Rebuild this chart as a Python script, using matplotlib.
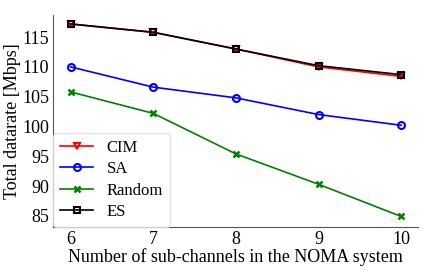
import numpy as np
import matplotlib
matplotlib.use('Agg')
import matplotlib.pyplot as plt

plt.rcParams['font.family'] = ['Liberation Serif', 'DejaVu Serif']

# データ
channels = [6, 7, 8, 9, 10]
cim = [117.2, 115.8, 113.0, 110.0, 108.4]
sa = [110.0, 106.6, 104.8, 102.0, 100.2]
rnd = [105.8, 102.2, 95.4, 90.3, 84.9]
es = [117.2, 115.8, 113.0, 110.2, 108.7]

fig, ax = plt.subplots(figsize=(4.36, 2.73), dpi=100)
fig.subplots_adjust(left=0.122, right=0.958, top=0.945, bottom=0.17)

ax.plot(channels, cim, color='red', marker='v', markersize=5, mfc='none', mew=1.5, lw=1.2, label='CIM')
ax.plot(channels, sa, color='blue', marker='o', markersize=5, mfc='none', mew=1.5, lw=1.2, label='SA')
ax.plot(channels, rnd, color='green', marker='x', markersize=5, mew=1.8, lw=1.2, label='Random')
ax.plot(channels, es, color='black', marker='s', markersize=5, mfc='none', mew=1.5, lw=1.2, label='ES')

ax.set_xlim(5.79, 10.2)
ax.set_ylim(83.2, 118.7)
ax.set_xticks(channels)
ax.set_yticks([85, 90, 95, 100, 105, 110, 115])
ax.tick_params(length=0, labelsize=13, pad=3)
ax.spines['top'].set_visible(False)
ax.spines['right'].set_visible(False)
ax.spines['left'].set_color('#555555')
ax.spines['bottom'].set_color('#555555')

ax.set_xlabel('Number of sub-channels in the NOMA system', fontsize=13, labelpad=0)
ax.set_ylabel('Total datarate [Mbps]', fontsize=13, labelpad=1)
ax.legend(loc='lower left', fontsize=12, frameon=True, borderaxespad=0.0,
          handlelength=2.0, labelspacing=0.32, edgecolor='#dddddd')

fig.savefig('out.png', dpi=100)
